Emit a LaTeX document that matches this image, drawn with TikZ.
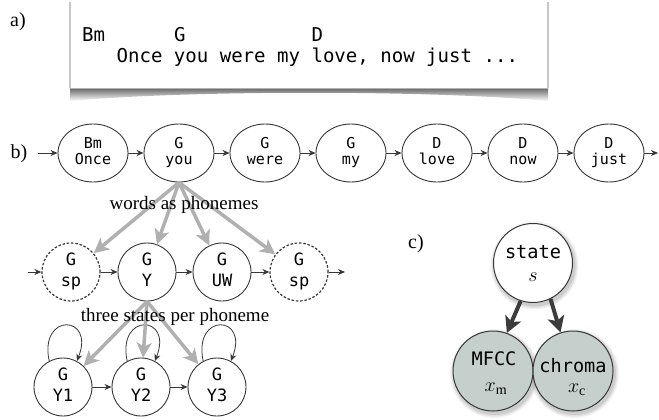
\documentclass[tikz,border=0pt]{standalone}
\usepackage{fix-cm}
\usepackage{fontspec}
\setmainfont{Liberation Serif}
\newfontfamily\monofont{DejaVu Sans Mono}
\usetikzlibrary{arrows.meta,shapes.geometric}

\definecolor{edgegray}{RGB}{55,55,55}
\definecolor{fangray}{RGB}{176,176,176}
\definecolor{obsfill}{RGB}{197,208,204}
\definecolor{causal}{RGB}{60,60,60}

% two centred lines of node text with equal row heights
\newcommand\twol[2]{\begin{tabular}{@{}c@{}}#1\\#2\end{tabular}}

\tikzset{
  word/.style={ellipse, draw=edgegray, fill=white, line width=0.9pt,
    minimum width=70pt, minimum height=58pt, inner sep=0pt,
    font=\monofont\fontsize{15}{16.5}\selectfont},
  phone/.style={circle, draw=edgegray, fill=white, line width=0.9pt,
    minimum size=58pt, inner sep=0pt,
    font=\monofont\fontsize{17}{20.5}\selectfont},
  silence/.style={phone, line width=1.2pt, dash pattern=on 2.5pt off 1.8pt},
  flow/.style={draw=edgegray, line width=0.8pt, -{Stealth[length=7pt,width=6pt]}},
  expand/.style={draw=fangray, line width=3.5pt,
    -{Stealth[length=15pt,width=15pt,inset=4pt]}},
  causalarrow/.style={draw=causal, line width=4pt,
    -{Stealth[length=16pt,width=17pt,inset=4pt]}},
  panellabel/.style={font=\fontsize{20}{24}\selectfont, inner sep=0pt},
  note/.style={font=\fontsize{19}{22}\selectfont, inner sep=0pt},
  lyric/.style={font=\monofont\fontsize{19.05}{22}\selectfont, inner sep=0pt, anchor=base west},
  ctext/.style={font=\monofont\fontsize{18.6}{22}\selectfont, inner sep=0pt},
  cmath/.style={font=\fontsize{20}{24}\selectfont, inner sep=0pt},
  hidden/.style={circle, draw=edgegray, fill=white, line width=1pt,
    minimum size=79pt, inner sep=0pt},
  observed/.style={circle, draw=edgegray, fill=obsfill, line width=1pt,
    minimum size=80pt, inner sep=0pt},
}

\begin{document}
\begin{tikzpicture}[x=1pt, y=-1pt]
\useasboundingbox (0,0) rectangle (659,420);

% ---------------- a) chord sheet on a lifted card ----------------
\node[panellabel] (la) at (18,22) {a)};
\shade[top color=black!60, bottom color=white]
  (70,88) -- (548,88) -- (548,101) .. controls (430,90) and (190,90) .. (70,101) -- cycle;
\fill[white] (70,2) rectangle (548,88);
\draw[black!22, line width=1.3pt] (70,2) -- (70,88);
\draw[black!22, line width=1.3pt] (548,2) -- (548,88);
\draw[black!30, line width=0.8pt] (70,88) -- (548,88);

\node[lyric] (chBm) at (82,42) {Bm};
\node[lyric] (chG) at (173.8,42) {G};
\node[lyric] (chD) at (311.4,42) {D};
\node[lyric] (line) at (116.4,63) {Once you were my love, now just ...};

% ---------------- b) word-level chain ----------------
\node[panellabel] (lb) at (19,154) {b)};
\coordinate (win) at (38,153);
\coordinate (wout) at (658,153);
\node[word] (w1) at (93,153)  {\twol{Bm}{Once}};
\node[word] (w2) at (179,153) {\twol{G}{you}};
\node[word] (w3) at (265,153) {\twol{G}{were}};
\node[word] (w4) at (351,153) {\twol{G}{my}};
\node[word] (w5) at (437,153) {\twol{D}{love}};
\node[word] (w6) at (523,153) {\twol{D}{now}};
\node[word] (w7) at (609,153) {\twol{D}{just}};
\draw[flow] (win) -- (w1);
\foreach \a/\b in {w1/w2,w2/w3,w3/w4,w4/w5,w5/w6,w6/w7} \draw[flow] (\a) -- (\b);
\draw[flow] (w7) -- (wout);

% phoneme chain for "you"
\coordinate (pin) at (28,272);
\coordinate (pout) at (345,272);
\node[silence] (p1) at (71,272)  {\twol{G}{sp}};
\node[phone]   (p2) at (147,272) {\twol{G}{Y}};
\node[phone]   (p3) at (222,272) {\twol{G}{UW}};
\node[silence] (p4) at (299,272) {\twol{G}{sp}};
\draw[flow] (pin) -- (p1);
\draw[flow] (p1) -- (p2);
\draw[flow] (p2) -- (p3);
\draw[flow] (p3) -- (p4);
\draw[flow] (p4) -- (pout);

% three HMM states for "Y"
\node[phone] (s1) at (63,387)  {\twol{G}{Y1}};
\node[phone] (s2) at (141,387) {\twol{G}{Y2}};
\node[phone] (s3) at (217,387) {\twol{G}{Y3}};
\draw[flow] (s1) -- (s2);
\draw[flow] (s2) -- (s3);
\foreach \s in {s1,s2,s3}
  \draw[flow] (\s.118) .. controls +(102:50pt) and +(68:50pt) .. (\s.62);

% expansion arrows
\foreach \t in {p1,p2,p3,p4} \draw[expand] (w2.south) -- (\t);
\foreach \t in {s1,s2,s3} \draw[expand] (p2.south) -- (\t);
\node[note] (wap) at (184,205) {words as phonemes};
\node[note] (tsp) at (175,317) {three states per phoneme};

% ---------------- c) observation model ----------------
\node[panellabel] (lc) at (416,244) {c)};
\foreach \cx/\cy/\r in {533/263/39.5, 493/371/40, 573/371/40}
  \foreach \g/\o in {4.5/0.05, 3/0.07, 1.5/0.09}
    \fill[black, opacity=\o] (\cx+1.5,\cy+2.5) circle[radius=\r pt+\g pt];
\node[hidden]   (state)  at (533,263) {};
\node[observed] (mfcc)   at (493,371) {};
\node[observed] (chroma) at (573,371) {};
\node[ctext] (lstate)  at (533,252) {state};
\node[cmath] (ls)      at (533,277) {$s$};
\node[ctext] (lmfcc)   at (494,359) {MFCC};
\node[cmath] (lxm)     at (496,389) {$x_\mathrm{m}$};
\node[ctext] (lchroma) at (573,366) {chroma};
\node[cmath] (lxc)     at (577,390) {$x_\mathrm{c}$};
\draw[causalarrow] (state.252) -- (mfcc.70);
\draw[causalarrow] (state.296) -- (chroma.108);
\end{tikzpicture}
\end{document}
